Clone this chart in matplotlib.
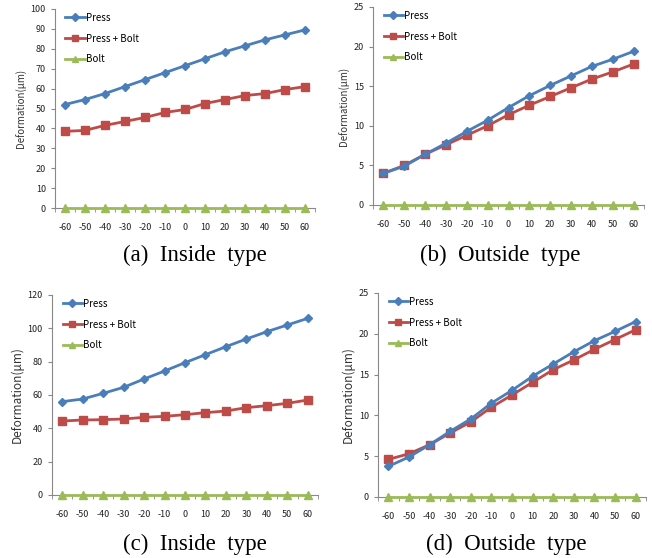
import numpy as np
import matplotlib.pyplot as plt

plt.rcParams['font.family'] = ['Noto Sans CJK KR', 'DejaVu Sans']

# Dados
categorias = ['-60', '-50', '-40', '-30', '-20', '-10', '0', '10', '20', '30', '40', '50', '60']

press_a = [52, 54.5, 57.5, 61, 64.5, 68, 71.5, 75, 78.5, 81.5, 84.5, 87, 89.5]
pb_a = [38.5, 39, 41.5, 43.5, 45.5, 48, 49.5, 52.5, 54.5, 56.5, 57.5, 59.5, 61]
bolt_a = [0] * 13

press_b = [4.0, 4.9, 6.4, 7.8, 9.3, 10.7, 12.3, 13.8, 15.1, 16.3, 17.5, 18.4, 19.4]
pb_b = [4.0, 5.0, 6.4, 7.6, 8.8, 10.0, 11.4, 12.6, 13.7, 14.8, 15.9, 16.8, 17.8]
bolt_b = [0] * 13

press_c = [56, 57.6, 61, 64.6, 69.6, 74.4, 79.4, 84.2, 89, 93.6, 98, 102, 106]
pb_c = [44.4, 45, 45.2, 45.6, 46.6, 47.2, 48.2, 49.4, 50.4, 52.4, 53.6, 55, 57]
bolt_c = [0] * 13

press_d = [3.75, 4.9, 6.4, 8.05, 9.56, 11.5, 13.07, 14.8, 16.3, 17.8, 19.16, 20.3, 21.5]
pb_d = [4.6, 5.3, 6.4, 7.84, 9.2, 11.0, 12.5, 14.05, 15.6, 16.8, 18.1, 19.3, 20.5]
bolt_d = [0] * 13

legendas = ['Press', 'Press + Bolt', 'Bolt']
cores = ['#4A7EBB', '#BE4B48', '#9BBB59']
marcadores = ['D', 's', '^']
tam_marc = [4.5, 5.5, 6]


def Painel(ax, press, pb, bolt, ymax, ystep, fs_label):
    x = np.arange(len(categorias))
    series = [press, pb, bolt]
    for i in range(3):
        ax.plot(x, series[i], color=cores[i], marker=marcadores[i], markersize=tam_marc[i],
                linewidth=2, label=legendas[i], zorder=3 - i * 0.1, clip_on=False)
    ax.set_xlim(-0.5, len(categorias) - 0.5)
    ax.set_ylim(0, ymax)
    ax.set_yticks(np.arange(0, ymax + 0.1, ystep))
    ax.set_xticks(x)
    ax.set_xticklabels(categorias)
    ax.set_xticks(np.arange(-0.5, len(categorias), 1), minor=True)
    ax.tick_params(axis='x', which='major', length=0, labelsize=6.5, pad=11, colors='#222222')
    ax.tick_params(axis='x', which='minor', length=3, color='#888888')
    ax.tick_params(axis='y', length=3, labelsize=6.5, color='#888888', colors='#222222')
    for lado in ['top', 'right']:
        ax.spines[lado].set_visible(False)
    for lado in ['left', 'bottom']:
        ax.spines[lado].set_color('#888888')
    ax.set_ylabel('Deformation(μm)', fontsize=fs_label, color='#333333', labelpad=3)
    ax.legend(loc='upper left', frameon=False, fontsize=7, handlelength=2.0,
              labelspacing=1.1, handletextpad=0.1, borderaxespad=0.0,
              bbox_to_anchor=(0.025, 1.0), markerscale=0.8)


fig = plt.figure(figsize=(6.52, 5.58), dpi=100, facecolor='white')
W = 652.0
H = 558.0

ax1 = fig.add_axes([55 / W, 1 - 208 / H, 260 / W, 199 / H])
ax2 = fig.add_axes([373 / W, 1 - 205 / H, 271 / W, 198 / H])
ax3 = fig.add_axes([52 / W, 1 - 495 / H, 266 / W, 200 / H])
ax4 = fig.add_axes([378 / W, 1 - 497 / H, 268 / W, 204 / H])

Painel(ax1, press_a, pb_a, bolt_a, 100, 10, 7)
Painel(ax2, press_b, pb_b, bolt_b, 25, 5, 7)
Painel(ax3, press_c, pb_c, bolt_c, 120, 20, 8.5)
Painel(ax4, press_d, pb_d, bolt_d, 25, 5, 8.5)

# Legendas das figuras
fs_cap = 16.5
fig.text(195 / W, 1 - 255 / H, '(a)  Inside  type', ha='center', va='center',
         family='Liberation Serif', fontsize=fs_cap)
fig.text(500 / W, 1 - 255 / H, '(b)  Outside  type', ha='center', va='center',
         family='Liberation Serif', fontsize=fs_cap)
fig.text(195 / W, 1 - 544 / H, '(c)  Inside  type', ha='center', va='center',
         family='Liberation Serif', fontsize=fs_cap)
fig.text(506 / W, 1 - 544 / H, '(d)  Outside  type', ha='center', va='center',
         family='Liberation Serif', fontsize=fs_cap)

fig.savefig('out.png', dpi=100)
